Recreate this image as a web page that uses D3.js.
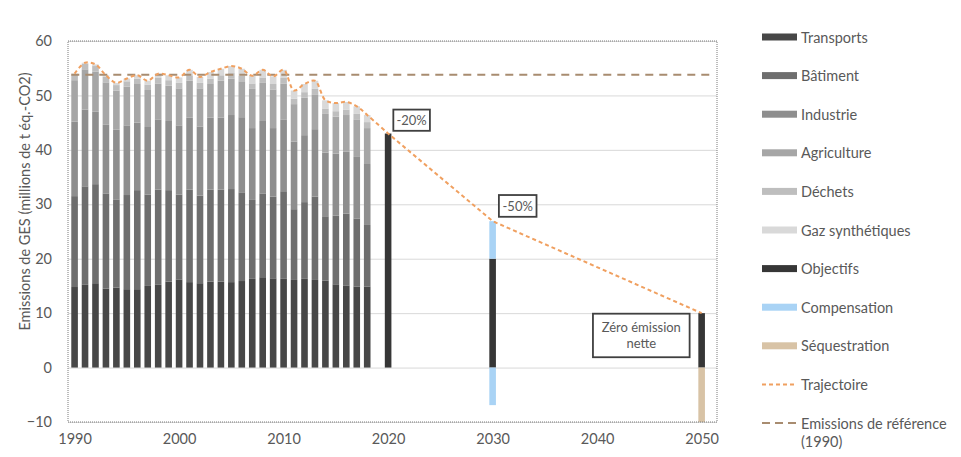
<!DOCTYPE html>
<html lang="fr">
<head>
<meta charset="utf-8">
<script src="https://cdn.jsdelivr.net/npm/d3@7"></script>
<style>
  body { margin: 0; background: #fff; }
  text { font-family: Lato, "Open Sans", sans-serif; fill: #595959; }
</style>
</head>
<body>
<div id="graph"></div>
<script>
// data (millions de t éq.-CO2)
const years = [1990, 1991, 1992, 1993, 1994, 1995, 1996, 1997, 1998, 1999,
  2000, 2001, 2002, 2003, 2004, 2005, 2006, 2007, 2008, 2009,
  2010, 2011, 2012, 2013, 2014, 2015, 2016, 2017, 2018];
const transports = [14.8, 15.2, 15.5, 14.5, 14.7, 14.4, 14.4, 15.0, 15.2, 15.8,
  16.2, 15.7, 15.5, 15.8, 15.8, 15.7, 15.9, 16.3, 16.6, 16.4,
  16.3, 16.1, 16.3, 16.1, 16.0, 15.3, 15.1, 14.9, 14.9];
const batiment = [16.7, 18.1, 18.2, 17.5, 16.2, 17.3, 18.2, 16.8, 17.5, 16.8,
  15.6, 17.0, 16.1, 16.9, 16.9, 17.1, 16.3, 14.5, 15.4, 15.0,
  16.1, 13.0, 14.1, 15.3, 11.8, 12.6, 13.2, 12.5, 11.3];
const industrie = [13.7, 14.1, 13.3, 12.6, 12.8, 12.8, 12.4, 12.4, 12.9, 12.7,
  12.7, 13.2, 12.7, 13.2, 13.2, 13.6, 13.8, 13.2, 13.3, 12.6,
  13.2, 12.4, 12.3, 12.4, 11.7, 11.4, 11.4, 11.3, 11.2];
const agriculture = [7.6, 7.4, 7.4, 7.8, 7.2, 7.1, 7.1, 6.8, 6.6, 6.5,
  6.8, 6.8, 7.0, 6.2, 6.8, 6.7, 6.6, 7.2, 7.0, 7.1,
  6.6, 6.9, 6.9, 6.4, 7.1, 6.8, 6.7, 6.9, 6.6];
const dechets = [1.0, 1.0, 1.0, 1.0, 1.0, 1.0, 1.0, 1.0, 1.0, 1.0,
  1.0, 1.0, 1.0, 1.0, 1.0, 1.0, 1.0, 1.0, 1.0, 1.0,
  1.0, 1.0, 1.0, 1.0, 1.0, 1.0, 1.0, 1.0, 1.1];
const gazSynth = [0.2, 0.2, 0.3, 0.3, 0.4, 0.5, 0.6, 0.7, 0.8, 0.9,
  1.0, 1.0, 1.1, 1.2, 1.2, 1.3, 1.3, 1.4, 1.4, 1.4,
  1.5, 1.5, 1.5, 1.5, 1.5, 1.5, 1.4, 1.4, 1.3];

const targetYears = [2020, 2030, 2050];
const objectifs = [43.0, 20.0, 10.0];
const compensationUp = [0, 6.9, 0];
const compensationDown = [0, -6.9, 0];
const sequestration = [0, 0, -10.0];

const trajYears = [1990, 1991, 1992, 1993, 1994, 1995, 1996, 1997, 1998, 1999,
  2000, 2001, 2002, 2003, 2004, 2005, 2006, 2007, 2008, 2009,
  2010, 2011, 2012, 2013, 2014, 2015, 2016, 2017, 2018, 2020, 2030, 2050];
const trajValues = [54.0, 56.0, 55.7, 53.7, 52.3, 53.1, 53.7, 52.7, 54.0, 53.7,
  53.3, 54.7, 53.4, 54.3, 54.9, 55.4, 54.9, 53.6, 54.7, 53.5,
  54.7, 50.9, 52.1, 52.7, 49.1, 48.6, 48.8, 48.0, 46.4, 43.0, 26.9, 10.0];
const referenceValue = 53.8;

const yTicks = [-10, 0, 10, 20, 30, 40, 50, 60];
const xTicks = [1990, 2000, 2010, 2020, 2030, 2040, 2050];

const sectorKeys = ["Transports", "Bâtiment", "Industrie", "Agriculture", "Déchets", "Gaz synthétiques"];
const sectorColors = ["#474747", "#6e6e6e", "#8e8e8e", "#a6a6a6", "#bebebe", "#d9d9d9"];

const legendLabels = ["Transports", "Bâtiment", "Industrie", "Agriculture", "Déchets",
  "Gaz synthétiques", "Objectifs", "Compensation", "Séquestration", "Trajectoire",
  "Emissions de référence"];

const colors = {
  objectif: "#363636",
  compensation: "#a9d3f5",
  sequestration: "#d8c3a6",
  trajectoire: "#f0a060",
  reference: "#a88c70",
  grid: "#d9d9d9",
  frame: "#7a7a7a"
};

const w = 961;
const h = 457;
const plot = { left: 68, right: 717, top: 41, bottom: 422 };
const barW = 6.6;

const xScale = d3.scaleLinear()
  .domain([1989.37, 2051.47])
  .range([plot.left, plot.right]);

const yScale = d3.scaleLinear()
  .domain([-10, 60])
  .range([plot.bottom, plot.top]);

const svg = d3.select("#graph")
  .append("svg")
  .attr("width", w)
  .attr("height", h);

svg.append("rect").attr("width", w).attr("height", h).attr("fill", "#fff");

// gridlines
const yGrid = d3.axisLeft(yScale)
  .tickValues(yTicks)
  .tickSize(-(plot.right - plot.left))
  .tickFormat("");

svg.append("g")
  .attr("class", "y-grid")
  .attr("transform", `translate(${plot.left},0)`)
  .call(yGrid)
  .call(g => g.select(".domain").remove())
  .call(g => g.selectAll("line").attr("stroke", colors.grid).attr("stroke-width", 1));

// stacked bars 1990-2018
const rows = years.map((y, i) => ({
  year: y,
  "Transports": transports[i],
  "Bâtiment": batiment[i],
  "Industrie": industrie[i],
  "Agriculture": agriculture[i],
  "Déchets": dechets[i],
  "Gaz synthétiques": gazSynth[i]
}));

const stacked = d3.stack().keys(sectorKeys)(rows);

svg.append("g")
  .attr("class", "bars")
  .selectAll("g")
  .data(stacked)
  .enter()
  .append("g")
  .attr("fill", (d, i) => sectorColors[i])
  .selectAll("rect")
  .data(d => d)
  .enter()
  .append("rect")
  .attr("x", d => xScale(d.data.year) - barW / 2)
  .attr("y", d => yScale(d[1]))
  .attr("width", barW)
  .attr("height", d => yScale(d[0]) - yScale(d[1]));

// target bars
const targets = targetYears.map((y, i) => ({
  year: y,
  obj: objectifs[i],
  up: compensationUp[i],
  down: compensationDown[i],
  seq: sequestration[i]
}));

const tg = svg.append("g").attr("class", "targets");

tg.selectAll(".obj")
  .data(targets)
  .enter()
  .append("rect")
  .attr("class", "obj")
  .attr("x", d => xScale(d.year) - barW / 2)
  .attr("y", d => yScale(d.obj))
  .attr("width", barW)
  .attr("height", d => yScale(0) - yScale(d.obj))
  .attr("fill", colors.objectif);

tg.selectAll(".comp-up")
  .data(targets.filter(d => d.up > 0))
  .enter()
  .append("rect")
  .attr("class", "comp-up")
  .attr("x", d => xScale(d.year) - barW / 2)
  .attr("y", d => yScale(d.obj + d.up))
  .attr("width", barW)
  .attr("height", d => yScale(d.obj) - yScale(d.obj + d.up))
  .attr("fill", colors.compensation);

tg.selectAll(".comp-down")
  .data(targets.filter(d => d.down < 0))
  .enter()
  .append("rect")
  .attr("class", "comp-down")
  .attr("x", d => xScale(d.year) - barW / 2)
  .attr("y", yScale(0))
  .attr("width", barW)
  .attr("height", d => yScale(d.down) - yScale(0))
  .attr("fill", colors.compensation);

tg.selectAll(".seq")
  .data(targets.filter(d => d.seq < 0))
  .enter()
  .append("rect")
  .attr("class", "seq")
  .attr("x", d => xScale(d.year) - barW / 2)
  .attr("y", yScale(0))
  .attr("width", barW)
  .attr("height", d => yScale(d.seq) - yScale(0))
  .attr("fill", colors.sequestration);

// reference line (1990)
svg.append("line")
  .attr("x1", xScale(1990) - barW / 2)
  .attr("x2", plot.right - 2)
  .attr("y1", yScale(referenceValue))
  .attr("y2", yScale(referenceValue))
  .attr("stroke", colors.reference)
  .attr("stroke-width", 2)
  .attr("stroke-dasharray", "8,6");

// trajectoire: smoothed over the history, straight between the targets
const trajPts = trajYears.map((y, i) => [y, trajValues[i]]);
const histPts = trajPts.filter(d => d[0] <= 2020);
const goalPts = trajPts.filter(d => d[0] >= 2020);

const smoothLine = d3.line()
  .x(d => xScale(d[0]))
  .y(d => yScale(d[1]))
  .curve(d3.curveCatmullRom.alpha(0.5));
const straightLine = d3.line()
  .x(d => xScale(d[0]))
  .y(d => yScale(d[1]));

svg.append("path")
  .attr("d", smoothLine(histPts) + straightLine(goalPts).replace(/^M[^L]*/, ""))
  .attr("fill", "none")
  .attr("stroke", colors.trajectoire)
  .attr("stroke-width", 2)
  .attr("stroke-dasharray", "4,3");

// plot frame (dotted, like the spreadsheet)
svg.append("rect")
  .attr("x", plot.left)
  .attr("y", plot.top)
  .attr("width", plot.right - plot.left)
  .attr("height", plot.bottom - plot.top)
  .attr("fill", "none")
  .attr("stroke", colors.frame)
  .attr("stroke-width", 1)
  .attr("stroke-dasharray", "1,1");

// axes
const yAxis = d3.axisLeft(yScale).tickValues(yTicks).tickSize(0).tickPadding(16);
svg.append("g")
  .attr("id", "y-axis")
  .attr("transform", `translate(${plot.left},0)`)
  .call(yAxis)
  .call(g => g.select(".domain").remove())
  .call(g => g.selectAll("text").attr("font-size", 14.5).attr("font-family", "Lato, sans-serif").attr("fill", "#595959"));

const xAxis = d3.axisBottom(xScale).tickValues(xTicks).tickFormat(d3.format("d")).tickSize(0).tickPadding(12);
svg.append("g")
  .attr("id", "x-axis")
  .attr("transform", `translate(0,${plot.bottom})`)
  .call(xAxis)
  .call(g => g.select(".domain").remove())
  .call(g => g.selectAll("text").attr("font-size", 14.5).attr("font-family", "Lato, sans-serif").attr("fill", "#595959"));

svg.append("text")
  .attr("transform", `translate(26,${(plot.top + plot.bottom) / 2 - 30}) rotate(-90)`)
  .attr("text-anchor", "middle")
  .attr("dominant-baseline", "middle")
  .attr("font-size", 14.5)
  .text("Emissions de GES (millions de t éq.-CO2)");

// annotation boxes, placed in data units
const notes = [
  { lines: ["-20%"], x0: 2020.5, x1: 2024.0, y0: 47.4, y1: 43.5 },
  { lines: ["-50%"], x0: 2030.6, x1: 2034.2, y0: 31.7, y1: 27.7 },
  { lines: ["Zéro émission", "nette"], x0: 2039.6, x1: 2048.85, y0: 9.9, y1: 1.9 }
];

const ng = svg.append("g").attr("class", "notes");
notes.forEach(n => {
  const bx = xScale(n.x0), by = yScale(n.y0);
  const bw = xScale(n.x1) - bx, bh = yScale(n.y1) - by;
  ng.append("rect")
    .attr("x", bx).attr("y", by)
    .attr("width", bw).attr("height", bh)
    .attr("fill", "#fff")
    .attr("stroke", "#404040")
    .attr("stroke-width", 1.8);
  const lh = 16;
  const startY = by + bh / 2 - (n.lines.length - 1) * lh / 2;
  n.lines.forEach((t, k) => {
    ng.append("text")
      .attr("x", bx + bw / 2)
      .attr("y", startY + k * lh)
      .attr("text-anchor", "middle")
      .attr("dominant-baseline", "central")
      .attr("font-size", 13)
      .text(t);
  });
});

// legend
const legendFills = sectorColors.concat([colors.objectif, colors.compensation, colors.sequestration]);
const legend = svg.append("g").attr("id", "legend").attr("transform", "translate(762,37)");
const rowH = 38.6;

legendLabels.forEach((label, i) => {
  const gy = i * rowH;
  if (i < legendFills.length) {
    legend.append("rect")
      .attr("x", 0).attr("y", gy - 3.5)
      .attr("width", 35).attr("height", 7)
      .attr("fill", legendFills[i]);
  } else if (label === "Trajectoire") {
    legend.append("line")
      .attr("x1", 0).attr("x2", 35).attr("y1", gy).attr("y2", gy)
      .attr("stroke", colors.trajectoire).attr("stroke-width", 2)
      .attr("stroke-dasharray", "4,3");
  } else {
    legend.append("line")
      .attr("x1", 0).attr("x2", 35).attr("y1", gy).attr("y2", gy)
      .attr("stroke", colors.reference).attr("stroke-width", 2)
      .attr("stroke-dasharray", "8,5");
  }
  legend.append("text")
    .attr("x", 39)
    .attr("y", gy)
    .attr("dominant-baseline", "central")
    .attr("font-size", 14.5)
    .text(label);
});

legend.append("text")
  .attr("x", 39)
  .attr("y", 10 * rowH + 18.5)
  .attr("dominant-baseline", "central")
  .attr("font-size", 14.5)
  .text("(1990)");
</script>
</body>
</html>
